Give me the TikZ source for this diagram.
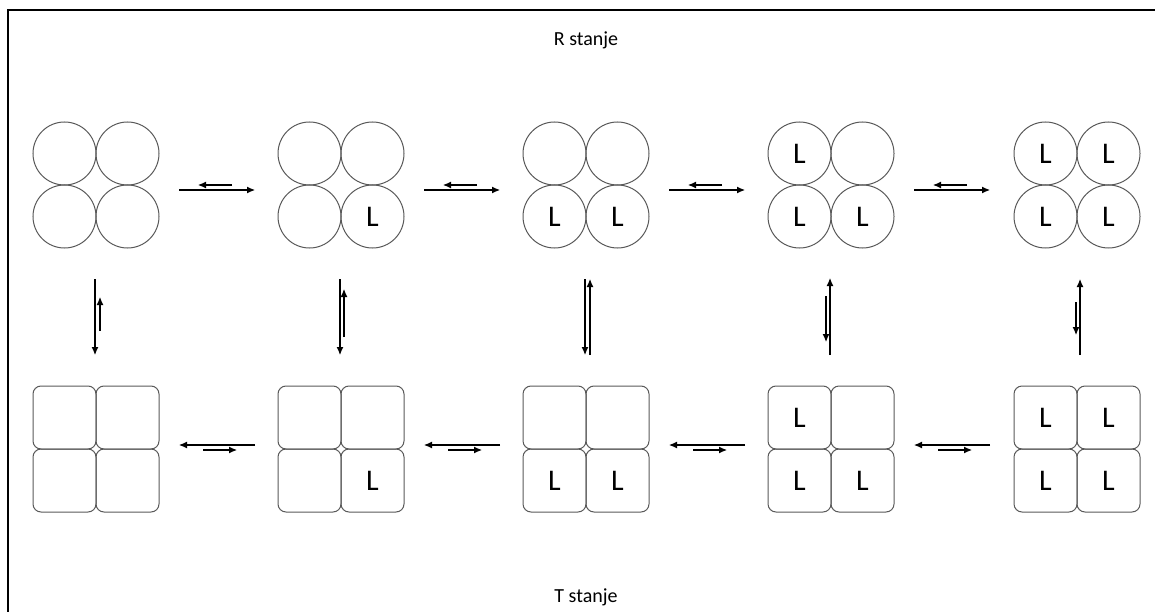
\documentclass[tikz,border=0pt]{standalone}
\usepackage{fontspec}
\setmainfont{Carlito}
\usetikzlibrary{arrows.meta}
\tikzset{
  cell/.style={draw=black!65, line width=1pt, inner sep=0pt, font=\fontsize{30}{30}\selectfont},
  rcell/.style={cell, circle, minimum size=63pt},
  tcell/.style={cell, rectangle, rounded corners=8pt, minimum size=63pt},
  eq/.style={-{Latex[length=8pt,width=7pt]}, line width=1.1pt},
  title/.style={font=\fontsize{20}{24}\selectfont}
}
\begin{document}
\begin{tikzpicture}[x=1pt, y=-1pt]
    \useasboundingbox (0,0) rectangle (1155,612);
    % Frame
    \draw[line width=1.8pt] (8,612) -- (8,10) -- (1155,10);

    \node[title] (rtitle) at (586,40) {R stanje};
    \node[title] (ttitle) at (586,597) {T stanje};

    % R and T forms, i = number of bound L
    \foreach \i/\gx in {1/96, 2/341, 3/586, 4/831, 5/1077} {
        \coordinate (R\i) at (\gx,185);
        \coordinate (T\i) at (\gx,449);
        \node[rcell] (R\i-a) at (\gx-31.5,153.5) {\ifnum\i>3 L\fi};
        \node[rcell] (R\i-b) at (\gx+31.5,153.5) {\ifnum\i>4 L\fi};
        \node[rcell] (R\i-c) at (\gx-31.5,216.5) {\ifnum\i>2 L\fi};
        \node[rcell] (R\i-d) at (\gx+31.5,216.5) {\ifnum\i>1 L\fi};
        \node[tcell] (T\i-a) at (\gx-31.5,417.5) {\ifnum\i>3 L\fi};
        \node[tcell] (T\i-b) at (\gx+31.5,417.5) {\ifnum\i>4 L\fi};
        \node[tcell] (T\i-c) at (\gx-31.5,480.5) {\ifnum\i>2 L\fi};
        \node[tcell] (T\i-d) at (\gx+31.5,480.5) {\ifnum\i>1 L\fi};
    }

    % Horizontal equilibria
    \foreach \i in {1,...,4} {
        \draw[eq] ([shift={(83,5)}]R\i) -- ([shift={(159,5)}]R\i);
        \draw[eq] ([shift={(136,0)}]R\i) -- ([shift={(102,0)}]R\i);
        \draw[eq] ([shift={(159,-4)}]T\i) -- ([shift={(83,-4)}]T\i);
        \draw[eq] ([shift={(107,1)}]T\i) -- ([shift={(141,1)}]T\i);
    }

    % Vertical equilibria R <-> T
    \draw[eq] ([shift={(-1,94)}]R1) -- ([shift={(-1,170)}]R1);
    \draw[eq] ([shift={(4,146)}]R1) -- ([shift={(4,112)}]R1);

    \draw[eq] ([shift={(-1,94)}]R2) -- ([shift={(-1,170)}]R2);
    \draw[eq] ([shift={(3,152)}]R2) -- ([shift={(3,104)}]R2);

    \draw[eq] ([shift={(-1,94)}]R3) -- ([shift={(-1,170)}]R3);
    \draw[eq] ([shift={(4,170)}]R3) -- ([shift={(4,94)}]R3);

    \draw[eq] ([shift={(-1,170)}]R4) -- ([shift={(-1,93)}]R4);
    \draw[eq] ([shift={(-5,111)}]R4) -- ([shift={(-5,157)}]R4);

    \draw[eq] ([shift={(3,170)}]R5) -- ([shift={(3,94)}]R5);
    \draw[eq] ([shift={(-1,117)}]R5) -- ([shift={(-1,150)}]R5);
\end{tikzpicture}
\end{document}
